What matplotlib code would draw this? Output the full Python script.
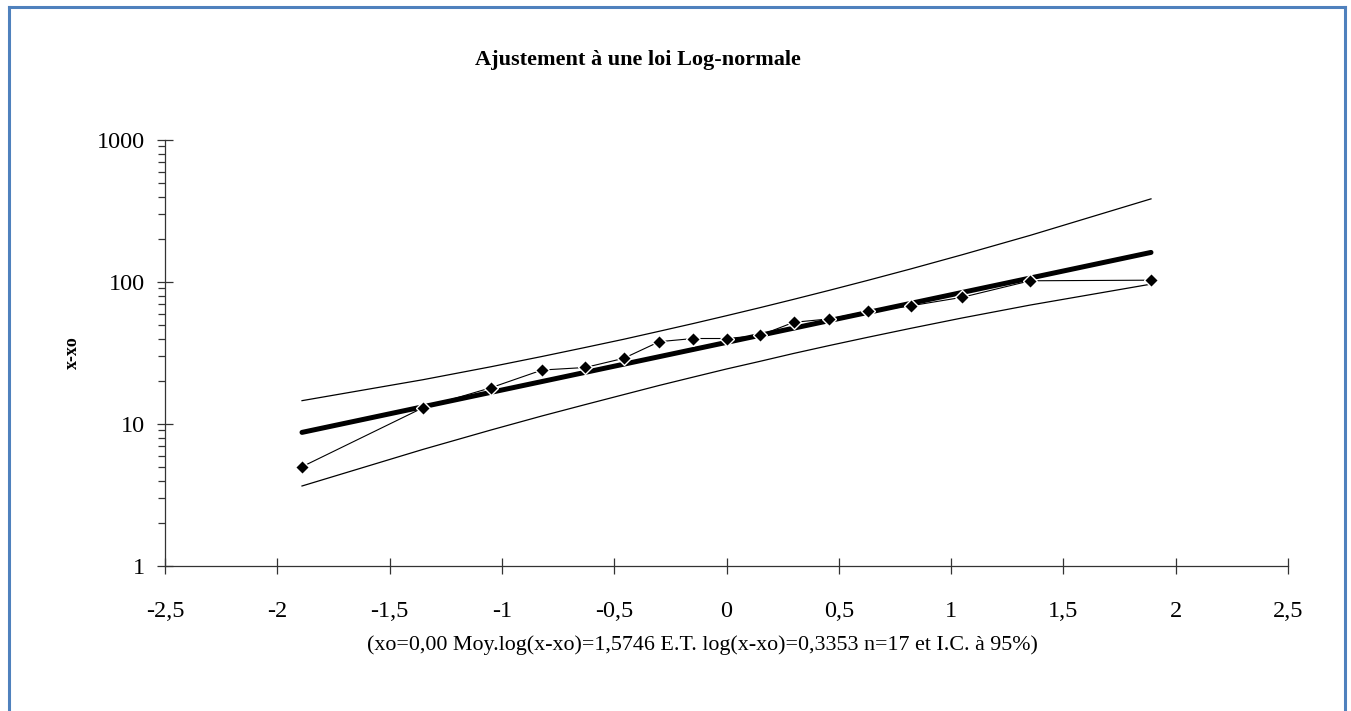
#!/usr/bin/env python3
"""Ajustement à une loi Log-normale : droite de Henry en échelle log."""

import numpy as np
import matplotlib
matplotlib.use('Agg')
import matplotlib.pyplot as plt
from matplotlib.lines import Line2D
from matplotlib.ticker import FixedLocator, LogLocator, NullFormatter

# ---------------------------------------------------------------------------
# Data
# ---------------------------------------------------------------------------
# Quantiles normaux des rangs (i - 0.5) / n, n = 17
z_rank = [-1.890, -1.352, -1.049, -0.821, -0.629, -0.458, -0.299, -0.148, 0.000,
          0.148, 0.299, 0.458, 0.629, 0.821, 1.049, 1.352, 1.890]
# Valeurs observées x - xo (triées)
x_obs = [5, 13, 18, 24, 25, 29, 38, 40, 40, 42, 52, 55, 62, 68, 78, 102, 103]
# Bornes de l'intervalle de confiance à 95 %
ic_upper = [14.6, 20.5, 25.3, 29.9, 34.6, 39.5, 45.0, 51.0, 57.9,
            65.9, 75.5, 87.4, 102.7, 123.7, 155.5, 213.0, 385.0]
ic_lower = [3.66, 6.62, 9.07, 11.4, 13.7, 16.1, 18.7, 21.4, 24.4,
            27.6, 31.4, 35.7, 40.8, 47.2, 55.8, 68.8, 96.6]

xo = 0.00
mean_log = 1.5746
sd_log = 0.3353
n_obs = 17

x_ticks = [-2.5, -2, -1.5, -1, -0.5, 0, 0.5, 1, 1.5, 2, 2.5]
y_ticks = [1, 10, 100, 1000]

# Droite ajustée : log10(x - xo) = moyenne + E.T. * z
fit_line = 10 ** (mean_log + sd_log * np.array(z_rank))


def fr(v, nd):
    """Nombre au format français (virgule décimale)."""
    return f'{v:.{nd}f}'.replace('.', ',')


# ---------------------------------------------------------------------------
# Figure
# ---------------------------------------------------------------------------
plt.rcParams['font.family'] = ['Liberation Serif', 'DejaVu Serif']

W, H = 1351, 711
fig = plt.figure(figsize=(W / 100, H / 100), dpi=100)
fig.patch.set_facecolor('white')

ax_l, ax_r, ax_t, ax_b = 165, 1288, 140, 566
ax = fig.add_axes([ax_l / W, 1 - ax_b / H, (ax_r - ax_l) / W, (ax_b - ax_t) / H])

ax.plot(z_rank, ic_upper, color='black', lw=0.9, zorder=2)
ax.plot(z_rank, ic_lower, color='black', lw=0.9, zorder=2)
ax.plot(z_rank, fit_line, color='black', lw=3.6,
        solid_capstyle='round', zorder=3)
ax.plot(z_rank, x_obs, color='black', lw=0.8, marker='D', markersize=7.5,
        markerfacecolor='black', markeredgecolor='white', markeredgewidth=1.0,
        zorder=4)

ax.set_yscale('log')
ax.set_xlim(-2.5, 2.5)
ax.set_ylim(1, 1000)

ax.xaxis.set_major_locator(FixedLocator(x_ticks))
ax.set_xticklabels([f'{t:g}'.replace('.', ',') for t in x_ticks])
ax.yaxis.set_major_locator(FixedLocator(y_ticks))
ax.set_yticklabels([str(t) for t in y_ticks])
ax.yaxis.set_minor_locator(LogLocator(base=10, subs=np.arange(2, 10)))
ax.yaxis.set_minor_formatter(NullFormatter())

for side in ('top', 'right'):
    ax.spines[side].set_visible(False)
for side in ('left', 'bottom'):
    ax.spines[side].set_color('#333333')
    ax.spines[side].set_linewidth(0.9)

ax.tick_params(axis='both', which='major', direction='inout', length=11,
               width=0.9, color='#333333', labelsize=17.5)
ax.tick_params(axis='y', which='major', pad=9)
ax.tick_params(axis='x', which='major', pad=20)
ax.tick_params(axis='y', which='minor', direction='out', length=5,
               width=0.9, color='#333333')

ax.set_ylabel('x-xo', fontsize=13, fontweight='bold')
ax.yaxis.set_label_coords((81 - ax_l) / (ax_r - ax_l), 0.5)
ax.set_xlabel(f'(xo={fr(xo, 2)} Moy.log(x-xo)={fr(mean_log, 4)} '
              f'E.T. log(x-xo)={fr(sd_log, 4)} n={n_obs} et I.C. à 95%)',
              fontsize=15.8)
ax.xaxis.set_label_coords((702 - ax_l) / (ax_r - ax_l), -(645 - ax_b) / (ax_b - ax_t))
ax.xaxis.label.set_va('center')

fig.text(638 / W, 1 - 60 / H, 'Ajustement à une loi Log-normale',
         ha='center', va='center', fontsize=16, fontweight='bold')

# Cadre bleu autour du graphique
frame_kw = dict(color='#4F81BD', lw=2.2, transform=fig.transFigure)
fig.add_artist(Line2D([9 / W, 1345 / W], [1 - 7 / H, 1 - 7 / H], **frame_kw))
fig.add_artist(Line2D([9 / W, 9 / W], [0, 1 - 7 / H], **frame_kw))
fig.add_artist(Line2D([1345 / W, 1345 / W], [0, 1 - 7 / H], **frame_kw))

fig.savefig('out.png', dpi=100)
plt.close(fig)
